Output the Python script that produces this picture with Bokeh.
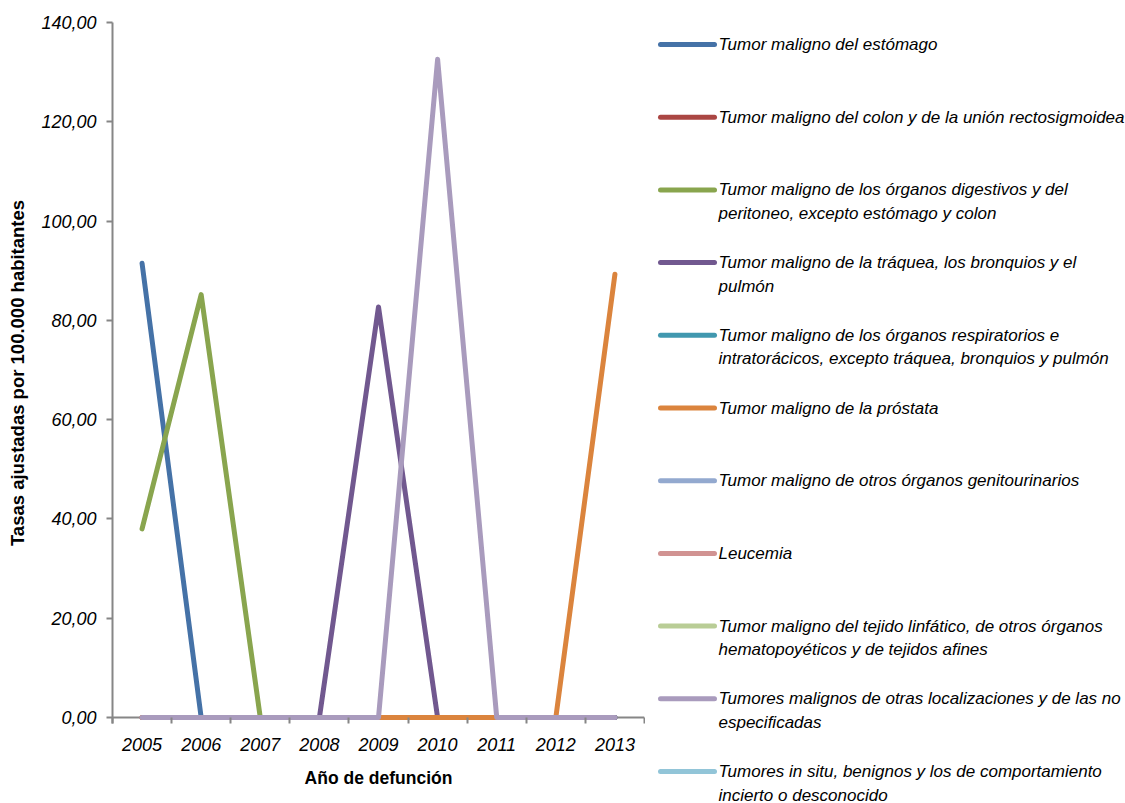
from bokeh.plotting import figure
from bokeh.layouts import row, column
from bokeh.models import Range1d, FixedTicker, CustomJSTickFormatter, ColumnDataSource
from bokeh.core.properties import value
from bokeh.embed import file_html
from bokeh.resources import INLINE

nan = float("nan")

# Años de defunción (eje X)
years = ["2005", "2006", "2007", "2008", "2009", "2010", "2011", "2012", "2013"]

# Tasas ajustadas por 100.000 habitantes, una lista por causa
estomago = [91.5, 0.0, 0.0, 0.0, 0.0, 0.0, 0.0, 0.0, 0.0]
colon = [nan, nan, nan, nan, nan, nan, nan, nan, nan]
digestivos = [38.0, 85.2, 0.0, 0.0, 0.0, 0.0, 0.0, 0.0, 0.0]
traquea = [0.0, 0.0, 0.0, 0.0, 82.7, 0.0, 0.0, 0.0, 0.0]
respiratorios = [nan, nan, nan, nan, nan, nan, nan, nan, nan]
prostata = [0.0, 0.0, 0.0, 0.0, 0.0, 0.0, 0.0, 0.0, 89.3]
genitourinarios = [nan, nan, nan, nan, nan, nan, nan, nan, nan]
leucemia = [nan, nan, nan, nan, nan, nan, nan, nan, nan]
linfatico = [nan, nan, nan, nan, nan, nan, nan, nan, nan]
otras = [0.0, 0.0, 0.0, 0.0, 0.0, 132.6, 0.0, 0.0, 0.0]
in_situ = [nan, nan, nan, nan, nan, nan, nan, nan, nan]

series_names = [
    "Tumor maligno del estómago",
    "Tumor maligno del colon y de la unión rectosigmoidea",
    "Tumor maligno de los órganos digestivos y del\nperitoneo, excepto estómago y colon",
    "Tumor maligno de la tráquea, los bronquios y el\npulmón",
    "Tumor maligno de los órganos respiratorios e\nintratorácicos, excepto tráquea, bronquios y pulmón",
    "Tumor maligno de la próstata",
    "Tumor maligno de otros órganos genitourinarios",
    "Leucemia",
    "Tumor maligno del tejido linfático, de otros órganos\nhematopoyéticos y de tejidos afines",
    "Tumores malignos de otras localizaciones y de las no\nespecificadas",
    "Tumores in situ, benignos y los de comportamiento\nincierto o desconocido",
]
series_values = [estomago, colon, digestivos, traquea, respiratorios, prostata,
                 genitourinarios, leucemia, linfatico, otras, in_situ]
series_colors = ["#4572A7", "#AA4643", "#89A54E", "#71588F", "#4198AF", "#DB843D",
                 "#93A9CF", "#D19392", "#B9CD96", "#A99BBD", "#92C5D8"]

y_ticks = [0, 20, 40, 60, 80, 100, 120, 140]

FONT = "Liberation Sans"
AXIS_GREY = "#868686"
TEXT = "#000000"

H = 803

xs = list(range(len(years)))

p = figure(width=645, height=H,
           x_range=Range1d(-0.5, len(years) - 0.5),
           y_range=Range1d(-1.2, 140),
           output_backend="svg", toolbar_location=None,
           min_border_left=112, min_border_right=1,
           min_border_top=22, min_border_bottom=80)
p.outline_line_color = None
p.xgrid.visible = False
p.ygrid.visible = False
p.background_fill_color = "white"
p.border_fill_color = "white"

# horizontal axis line at zero, beneath the series
p.segment(x0=[-0.5], y0=[0], x1=[len(years) - 0.5], y1=[0],
          line_color=AXIS_GREY, line_width=2)

for vals, color in zip(series_values, series_colors):
    p.line(x=xs, y=vals, line_color=color, line_width=5,
           line_cap="round", line_join="round")

# Y axis
ya = p.yaxis[0]
ya.ticker = FixedTicker(ticks=y_ticks, minor_ticks=[])
ya.formatter = CustomJSTickFormatter(code="return tick.toFixed(2).replace('.', ',');")
ya.axis_line_color = AXIS_GREY
ya.axis_line_width = 2
ya.major_tick_line_color = AXIS_GREY
ya.major_tick_line_width = 2
ya.major_tick_out = 6
ya.major_tick_in = 0
ya.minor_tick_line_color = None
ya.major_label_text_font = FONT
ya.major_label_text_font_style = "italic"
ya.major_label_text_font_size = "18px"
ya.major_label_text_color = TEXT
ya.major_label_standoff = 10
ya.axis_label = "Tasas ajustadas por 100.000 habitantes"
ya.axis_label_text_font = FONT
ya.axis_label_text_font_style = "bold"
ya.axis_label_text_font_size = "18.5px"
ya.axis_label_text_color = TEXT
ya.axis_label_standoff = 10

# X axis: labels at year centres, tick marks at category boundaries
xa = p.xaxis[0]
xa.ticker = FixedTicker(ticks=xs, minor_ticks=[i - 0.5 for i in range(len(years) + 1)])
xa.major_label_overrides = {i: y for i, y in enumerate(years)}
xa.axis_line_color = None
xa.major_tick_line_color = None
xa.major_tick_in = 0
xa.major_tick_out = 0
xa.minor_tick_line_color = AXIS_GREY
xa.minor_tick_line_width = 2
xa.minor_tick_in = 6
xa.minor_tick_out = 0
xa.major_label_text_font = FONT
xa.major_label_text_font_style = "italic"
xa.major_label_text_font_size = "18px"
xa.major_label_text_color = TEXT
xa.major_label_standoff = 14
xa.axis_label = "Año de defunción"
xa.axis_label_text_font = FONT
xa.axis_label_text_font_style = "bold"
xa.axis_label_text_font_size = "17.5px"
xa.axis_label_text_color = TEXT
xa.axis_label_standoff = 14

# Legend panel in page pixel coordinates (full-height frame)
leg = figure(width=480, height=H,
             x_range=Range1d(645, 1125), y_range=Range1d(H, 0),
             x_axis_location=None, y_axis_location=None,
             output_backend="svg", toolbar_location=None,
             min_border_left=0, min_border_right=0,
             min_border_top=0, min_border_bottom=0)
leg.outline_line_color = None
leg.xgrid.visible = False
leg.ygrid.visible = False

entry_top = 44.0
entry_step = 72.7
line_step = 23.5

seg_y, tx, ty, tt = [], [], [], []
for i, name in enumerate(series_names):
    y0 = entry_top + i * entry_step
    seg_y.append(y0)
    for j, part in enumerate(name.split("\n")):
        tx.append(718)
        ty.append(y0 + j * line_step)
        tt.append(part)

leg.segment(x0=[660] * len(seg_y), y0=seg_y, x1=[714] * len(seg_y), y1=seg_y,
            line_color=series_colors, line_width=5, line_cap="round")
leg.text(x="x", y="y", text="t", source=ColumnDataSource(dict(x=tx, y=ty, t=tt)),
         text_font=value(FONT), text_font_style="italic", text_font_size="17px",
         text_color=TEXT, text_baseline="middle", text_align="left")

layout = row(p, column(leg, spacing=0), spacing=0)
open("out.html", "w").write(file_html(layout, INLINE))
